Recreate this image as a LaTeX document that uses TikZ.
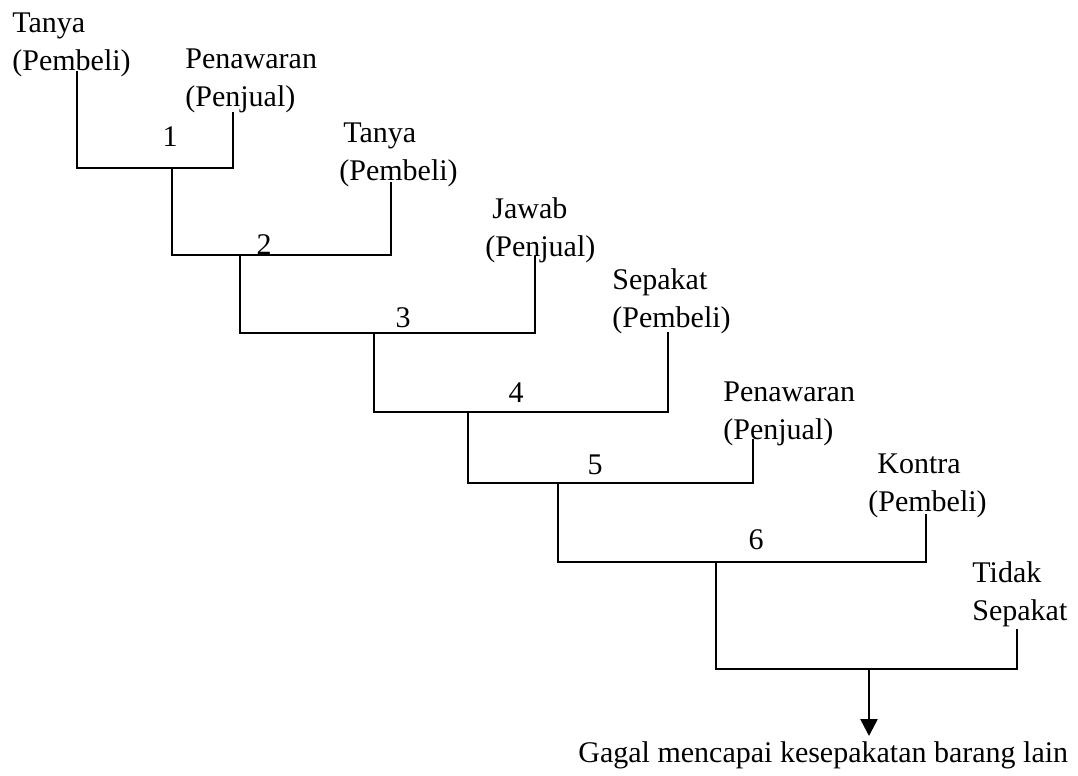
\documentclass[tikz,border=0pt]{standalone}
\usepackage{fontspec}
\setmainfont{Liberation Serif}
\usetikzlibrary{arrows.meta}
\begin{document}
\begin{tikzpicture}[x=0.5pt,y=-0.5pt,
  lbl/.style={inner sep=0pt,anchor=west,align=left,font=\fontsize{15}{19}\selectfont},
  num/.style={inner sep=0pt,font=\fontsize{15}{19}\selectfont},
  wire/.style={line width=1.3pt,line cap=rect},
  outarrow/.style={line width=1.3pt,-{Triangle[length=8.5pt,width=8.5pt]}}]
\path[use as bounding box,fill=white] (0,0) rectangle (1078,776);

% speaker labels
\node[lbl] (t1) at (12,45)  {Tanya\\(Pembeli)};
\node[lbl] (t2) at (185,81) {Penawaran\\(Penjual)};
\node[lbl] (t3) at (339,155) {\hspace*{2pt}Tanya\\(Pembeli)};
\node[lbl] (t4) at (485,230) {\hspace*{3.5pt}Jawab\\(Penjual)};
\node[lbl] (t5) at (612,301) {Sepakat\\(Pembeli)};
\node[lbl] (t6) at (723,414) {Penawaran\\(Penjual)};
\node[lbl] (t7) at (868,486) {\hspace*{4.5pt}Kontra\\(Pembeli)};
\node[lbl] (t8) at (972,594) {Tidak\\Sepakat};
\node[lbl] (res) at (578,755) {Gagal mencapai kesepakatan barang lain};

% step numbers
\node[num] (n1) at (170,137) {1};
\node[num] (n2) at (264,245) {2};
\node[num] (n3) at (403,318) {3};
\node[num] (n4) at (516,393) {4};
\node[num] (n5) at (595,465) {5};
\node[num] (n6) at (756,540) {6};

% line ends under the labels
\coordinate (a1) at (77,72);
\coordinate (a2) at (233,113);
\coordinate (a3) at (391,183);
\coordinate (a4) at (535,257);
\coordinate (a5) at (668,333);
\coordinate (a6) at (753,440);
\coordinate (a7) at (926,515);
\coordinate (a8) at (1017,630);

% junction points of the brackets
\coordinate (j1) at (172,168);
\coordinate (j2) at (240,255);
\coordinate (j3) at (374,333);
\coordinate (j4) at (468,412);
\coordinate (j5) at (558,483);
\coordinate (j6) at (716,562);
\coordinate (j7) at (869,669);

% brackets
\draw[wire] (a1) |- (j1) -| (a2);
\draw[wire] (j1) |- (j2) -| (a3);
\draw[wire] (j2) |- (j3) -| (a4);
\draw[wire] (j3) |- (j4) -| (a5);
\draw[wire] (j4) |- (j5) -| (a6);
\draw[wire] (j5) |- (j6) -| (a7);
\draw[wire] (j6) |- (j7) -| (a8);

% outcome
\coordinate (tip) at (869,736);
\draw[outarrow] (j7) -- (tip);
\end{tikzpicture}
\end{document}
